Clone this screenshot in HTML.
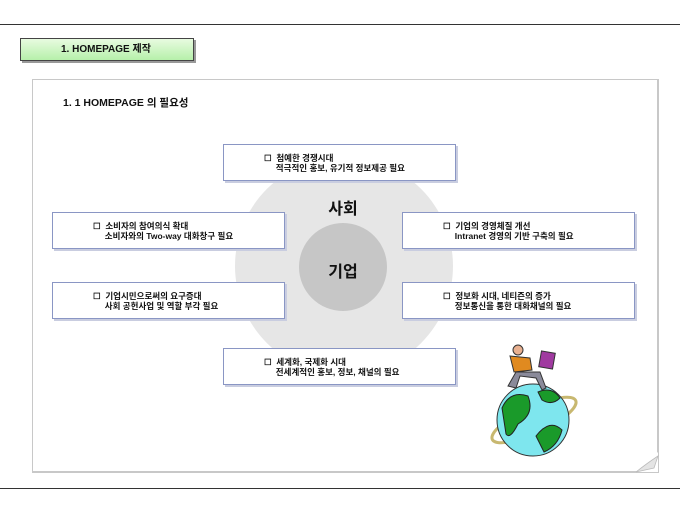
<!DOCTYPE html>
<html><head><meta charset="utf-8"><style>
*{margin:0;padding:0;box-sizing:border-box}
body{width:680px;height:510px;background:#fff;position:relative;overflow:hidden;font-family:"Liberation Sans","Noto Sans CJK KR",sans-serif;color:#111}
.abs{position:absolute}
.box{position:absolute;width:233px;height:37px;background:#fff;border:1px solid #8a96c4;box-shadow:2px 2px 0 #c9cde0;font-size:8.5px;font-weight:bold;line-height:10px;padding-top:8px;white-space:pre}
</style></head><body>
<div class="abs" style="left:0;top:24px;width:680px;height:1px;background:#333"></div>
<div class="abs" style="left:0;top:488px;width:680px;height:1px;background:#333"></div>
<div class="abs" style="left:20px;top:38px;width:174px;height:23px;background:linear-gradient(#e8fbe0,#b6f0aa);border:1px solid #444;box-shadow:2px 2px 0 #999;font-size:10px;font-weight:bold;line-height:21px;padding-left:40px">1. HOMEPAGE 제작</div>
<div class="abs" style="left:32px;top:79px;width:627px;height:394px;border:1px solid #c8c8c8;border-right-width:2px;border-bottom-width:2px"></div>
<svg class="abs" style="left:630px;top:450px" width="30" height="24"><path d="M6 22 L28 2 L28 22 Z" fill="#fff"/><path d="M6 22 Q16 14 28 6 L24 18 Z" fill="#e4e4e4" stroke="#bbb" stroke-width="0.8"/></svg>
<div class="abs" style="left:63px;top:95px;font-size:10.5px;font-weight:bold">1. 1 HOMEPAGE 의 필요성</div>
<div class="abs" style="left:235px;top:157px;width:218px;height:218px;border-radius:50%;background:#e6e6e6"></div>
<div class="abs" style="left:299px;top:223px;width:88px;height:88px;border-radius:50%;background:#c6c6c6"></div>
<div class="abs" style="left:313px;top:195px;width:60px;text-align:center;font-size:16px;font-weight:bold">사회</div>
<div class="abs" style="left:313px;top:258px;width:60px;text-align:center;font-size:16px;font-weight:bold">기업</div>
<div class="box" style="left:223px;top:144px;padding-left:40px">☐  첨예한 경쟁시대
     적극적인 홍보, 유기적 정보제공 필요</div>
<div class="box" style="left:52px;top:212px;padding-left:40px">☐  소비자의 참여의식 확대
     소비자와의 Two-way 대화창구 필요</div>
<div class="box" style="left:52px;top:282px;padding-left:40px">☐  기업시민으로써의 요구증대
     사회 공헌사업 및 역할 부각 필요</div>
<div class="box" style="left:402px;top:212px;padding-left:40px">☐  기업의 경영체질 개선
     Intranet 경영의 기반 구축의 필요</div>
<div class="box" style="left:402px;top:282px;padding-left:40px">☐  정보화 시대, 네티즌의 증가
     정보통신을 통한 대화채널의 필요</div>
<div class="box" style="left:223px;top:348px;padding-left:40px">☐  세계화, 국제화 시대
     전세계적인 홍보, 정보, 채널의 필요</div>
<svg class="abs" style="left:480px;top:340px" width="110" height="130">
<ellipse cx="54" cy="80" rx="46" ry="13" transform="rotate(-25 54 80)" fill="none" stroke="#c8b870" stroke-width="3"/>
<circle cx="53" cy="80" r="36" fill="#7ee6ee" stroke="#333"/>
<path d="M22 68 Q30 50 48 56 Q55 74 38 84 Q30 100 26 94 Z" fill="#1a9a2a" stroke="#222"/>
<path d="M56 96 Q70 78 82 90 Q78 106 64 112 Z" fill="#1a9a2a" stroke="#222"/>
<path d="M58 52 Q72 46 80 58 Q72 66 62 60 Z" fill="#1a9a2a" stroke="#222"/>
<circle cx="38" cy="10" r="5" fill="#e8b090" stroke="#333"/>
<path d="M30 16 L50 18 L52 30 L34 32 Z" fill="#e08a20" stroke="#333"/>
<path d="M36 32 L28 46 L36 48 L40 36 L56 38 L62 50 L66 48 L60 32 Z" fill="#8a8a9a" stroke="#333"/>
<rect x="60" y="12" width="14" height="16" fill="#a03aa0" stroke="#333" transform="rotate(10 67 20)"/>
</svg>
</body></html>
